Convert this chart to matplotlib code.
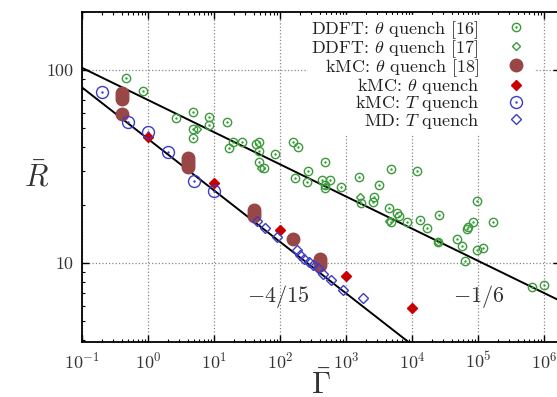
import numpy as np
import matplotlib
matplotlib.use('Agg')
import matplotlib.pyplot as plt
from matplotlib.ticker import LogLocator, FixedLocator, FixedFormatter, NullFormatter
from matplotlib.legend_handler import HandlerTuple

plt.rcParams['font.family'] = 'serif'
plt.rcParams['font.serif'] = ['cmr10', 'DejaVu Serif']
plt.rcParams['mathtext.fontset'] = 'cm'
plt.rcParams['axes.formatter.use_mathtext'] = True

# DDFT: theta quench [16]
ddft16_g = [0.46, 0.84, 2.66, 4.8, 8.4, 8.4, 4.8, 4.8, 15.7, 16.9, 19.4, 26.6, 43.3, 48, 48, 48,
            57, 84, 157, 187, 481, 266, 169, 256, 433, 573, 481, 481, 840, 1574, 1687, 2565,
            2655, 3162, 4808, 11900, 4487, 5929, 6353, 4808, 8397, 13200, 25600, 16900, 24800,
            48100, 57300, 68100, 70500, 84000, 96600, 96600, 119000, 169000, 63500, 658000, 1.0e6]
ddft16_r = [91, 77.8, 56.4, 60.6, 57.1, 51.9, 49.5, 44.4, 53.8, 39.4, 42.4, 42.4, 41.4, 42.4, 38.0, 33.4,
            31.1, 36.7, 42.4, 39.9, 33.4, 30.0, 27.6, 26.3, 26.9, 26.9, 25.4, 24.5, 24.8, 27.9, 20.5, 20.7,
            22.0, 25.4, 30.7, 30.0, 19.3, 18.2, 17.5, 16.3, 16.3, 16.7, 17.7, 15.2, 12.9,
            13.3, 12.2, 15.0, 15.4, 16.3, 21.0, 11.7, 12.0, 16.3, 10.2, 7.5, 7.7]

# DDFT: theta quench [17]
ddft17_g = [5.6, 52, 1650, 4500, 25000]
ddft17_r = [49.5, 31.1, 22.0, 16.5, 12.9]

# kMC: theta quench [18]
kmc18_g = [0.4, 0.4, 0.4, 0.4, 4, 4, 4, 4, 40, 40, 40, 160, 400, 400, 400]
kmc18_r = [76, 73.3, 70.7, 59, 35, 33.7, 32.6, 31.4, 18.8, 18.2, 17.5, 13.3, 10.5, 10.1, 9.8]

# kMC: theta quench
kmc_th_g = [1, 10, 100, 1000, 10000]
kmc_th_r = [45, 26, 14.8, 8.6, 5.85]

# kMC: T quench
kmc_T_g = [0.2, 0.5, 1, 2, 5, 10]
kmc_T_r = [77, 53.9, 47.7, 37.6, 26.6, 23.6]

# MD: T quench
md_g = [45, 59, 90, 181, 201, 231, 275, 316, 377, 449, 593, 902, 1811]
md_r = [16.5, 15.2, 13.6, 11.7, 11.0, 10.5, 10.1, 9.77, 9.42, 8.77, 8.17, 7.25, 6.59]

# power laws R = A * Gamma^slope
fit_slopes = [-1/6, -4/15]
fit_amps = [70, 44]

green = '#3a9b3a'
brown = '#984646'
red = '#c80000'
blue = '#3c3cc8'

fig = plt.figure(figsize=(5.57, 3.97), dpi=100)
ax = fig.add_axes([82/557, 55/397, 478/557, 330/397])

gg = np.logspace(-1, 6.3, 200)
for s, a in zip(fit_slopes, fit_amps):
    ax.plot(gg, a * gg**s, color='black', lw=1.4, zorder=2)

c1, = ax.plot(ddft16_g, ddft16_r, 'o', ms=6, mfc='none', mec=green, mew=1.0, zorder=3)
c1d, = ax.plot(ddft16_g, ddft16_r, '.', ms=1.5, color=green, zorder=3)
c2, = ax.plot(ddft17_g, ddft17_r, 'D', ms=3.6, mfc='none', mec=green, mew=1.0, zorder=3)
c3, = ax.plot(kmc18_g, kmc18_r, 'o', ms=9, color=brown, mec=brown, zorder=3)
c4, = ax.plot(kmc_th_g, kmc_th_r, 'D', ms=5.2, color=red, mec=red, zorder=4)
c5, = ax.plot(kmc_T_g, kmc_T_r, 'o', ms=8.6, mfc='none', mec=blue, mew=1.0, zorder=5)
c5d, = ax.plot(kmc_T_g, kmc_T_r, '.', ms=1.5, color=blue, zorder=5)
c6, = ax.plot(md_g, md_r, 'D', ms=5.0, mfc='none', mec=blue, mew=1.0, zorder=5)

ax.set_xscale('log')
ax.set_yscale('log')
ax.set_xlim(0.1, 10**(-1 + 478/66))
ax.set_ylim(3.9, 200)

ax.xaxis.set_major_locator(LogLocator(base=10, numticks=20))
ax.xaxis.set_minor_locator(LogLocator(base=10, subs=np.arange(2, 10), numticks=20))
ax.yaxis.set_major_locator(FixedLocator([10, 100]))
ax.yaxis.set_major_formatter(FixedFormatter(['10', '100']))
ax.yaxis.set_minor_locator(LogLocator(base=10, subs=np.arange(2, 10), numticks=20))
ax.yaxis.set_minor_formatter(NullFormatter())

ax.tick_params(which='both', direction='in', top=True, right=True, labelsize=13,
               colors='black', labelcolor='#333333')
ax.tick_params(which='major', length=5, width=1.0, pad=6)
ax.tick_params(which='minor', length=2.5, width=0.8)
for sp in ax.spines.values():
    sp.set_linewidth(1.3)

ax.grid(True, which='major', ls=':', color='#888888', lw=0.9, zorder=0)

ax.set_xlabel(r'$\bar{\Gamma}$', fontsize=22, color='#333333')
ax.set_ylabel(r'$\bar{R}$', fontsize=22, rotation=0, color='#333333', va='center')
ax.xaxis.set_label_coords(0.5, -0.085)
ax.yaxis.set_label_coords(-0.096, 0.5)

ax.text(31.6, 6.75, r'$-4/15$', fontsize=16, color='#333333', va='center', ha='left')
ax.text(41700, 6.75, r'$-1/6$', fontsize=16, color='#333333', va='center', ha='left')

handles = [(c1, c1d), c2, c3, c4, (c5, c5d), c6]
labels = [r'DDFT: $\theta$ quench [16]', r'DDFT: $\theta$ quench [17]',
          r'kMC: $\theta$ quench [18]', r'kMC: $\theta$ quench',
          r'kMC: $T$ quench', r'MD: $T$ quench']
leg = ax.legend(handles, labels, loc='upper right', bbox_to_anchor=(0.9435, 0.99),
                markerfirst=False, numpoints=1, fontsize=13, frameon=True,
                facecolor='white', edgecolor='white', framealpha=1, fancybox=False,
                borderaxespad=0, borderpad=0.2, labelspacing=-0.15, handlelength=1.5,
                handletextpad=1.3, handler_map={tuple: HandlerTuple(ndivide=1)})
for t in leg.get_texts():
    t.set_color('#222222')
leg.set_zorder(6)

plt.savefig('out.png', dpi=100)
